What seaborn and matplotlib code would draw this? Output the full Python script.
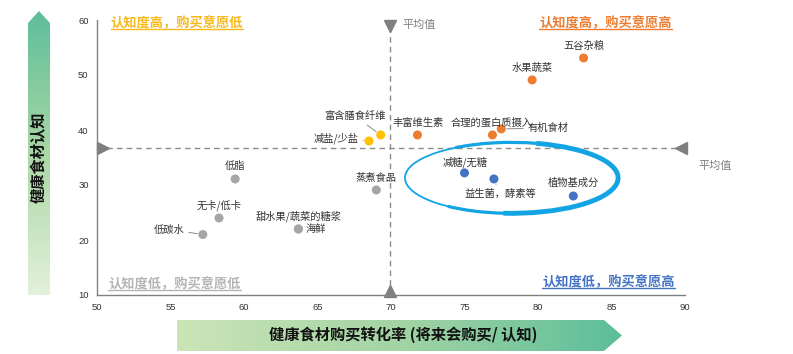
import numpy as np
import pandas as pd
import seaborn as sns
import matplotlib.pyplot as plt
from matplotlib.patches import Polygon, Arc
from matplotlib.lines import Line2D
from matplotlib.colors import LinearSegmentedColormap

# datos
nombres = ['五谷杂粮', '水果蔬菜', '丰富维生素', '合理的蛋白质摄入', '有机食材',
           '富含膳食纤维', '减盐/少盐',
           '低脂', '蒸煮食品', '无卡/低卡', '低碳水', '甜水果/蔬菜的糖浆', '海鲜',
           '减糖/无糖', '益生菌，酵素等', '植物基成分']
conversion = [83.1, 79.6, 71.8, 76.9, 77.5,
              69.3, 68.5,
              59.4, 69.0, 58.3, 57.2, 63.7, 63.7,
              75.0, 77.0, 82.4]
awareness = [53.1, 49.1, 39.1, 39.1, 40.2,
             39.1, 38.0,
             31.1, 29.1, 24.0, 21.0, 22.0, 22.0,
             32.2, 31.1, 28.0]
grupo = ['hh', 'hh', 'hh', 'hh', 'hh',
         'hl', 'hl',
         'll', 'll', 'll', 'll', 'll', 'll',
         'lh', 'lh', 'lh']
promedio_x = 69.9
promedio_y = 36.7

cuadrantes = {
    'hl': '认知度高，购买意愿低',
    'hh': '认知度高，购买意愿高',
    'll': '认知度低，购买意愿低',
    'lh': '认知度低，购买意愿高',
}
colores = {'hh': '#ED7D31', 'hl': '#FFC000', 'll': '#A5A5A5', 'lh': '#4472C4'}
colores_texto = {'hh': '#ED7D31', 'hl': '#F8B91C', 'll': '#B4B4B4', 'lh': '#4472C4'}

# desplazamiento de etiquetas (pixeles) y si llevan linea guia
etiquetas = {
    '五谷杂粮': (0, 12, False), '水果蔬菜': (0, 12, False),
    '丰富维生素': (1, 12, False), '合理的蛋白质摄入': (-1, 12, False),
    '有机食材': (47, 1, True), '富含膳食纤维': (-26, 19, True),
    '减盐/少盐': (-33, 3, True), '低脂': (0, 13, False),
    '蒸煮食品': (0, 12, False), '无卡/低卡': (0, 13, False),
    '低碳水': (-34, 5, True), '甜水果/蔬菜的糖浆': (0, 13, False),
    '海鲜': (17, 0, False), '减糖/无糖': (1, 11, False),
    '益生菌，酵素等': (6, -15, True), '植物基成分': (0, 13, False),
}

df = pd.DataFrame({'nombre': nombres, 'conv': conversion,
                   'aware': awareness, 'grupo': grupo})

sns.set_style('white')
plt.rcParams['font.family'] = ['Noto Sans CJK SC', 'DejaVu Sans']

fig = plt.figure(figsize=(7.93, 3.54), dpi=100)

# capa de fondo en pixeles para las flechas degradadas
bg = fig.add_axes([0, 0, 1, 1], zorder=0)
bg.set_xlim(0, 793)
bg.set_ylim(354, 0)
bg.axis('off')

cmap_v = LinearSegmentedColormap.from_list('v', ['#5DBE9A', '#A9D7A5', '#E4F1DB'])
im = bg.imshow(np.linspace(0, 1, 256).reshape(-1, 1), extent=(28, 50, 295, 11),
               cmap=cmap_v, aspect='auto')
poly = Polygon([(28, 295), (28, 23), (39, 11), (50, 23), (50, 295)],
               closed=True, fc='none', ec='none')
bg.add_patch(poly)
im.set_clip_path(poly)

cmap_h = LinearSegmentedColormap.from_list('h', ['#CCE5B7', '#A3D4A4', '#5DBE9A'])
im2 = bg.imshow(np.linspace(0, 1, 256).reshape(1, -1), extent=(177, 622, 351, 320),
                cmap=cmap_h, aspect='auto')
poly2 = Polygon([(177, 320), (604, 320), (622, 335.5), (604, 351), (177, 351)],
                closed=True, fc='none', ec='none')
bg.add_patch(poly2)
im2.set_clip_path(poly2)

bg.text(39, 157, '健康食材认知', rotation=90, ha='center', va='center',
        fontsize=11, fontweight='bold', color='#111111')
bg.text(403, 335, '健康食材购买转化率 (将来会购买/ 认知)', ha='center', va='center',
        fontsize=11, fontweight='bold', color='#111111')

# grafico principal
ax = fig.add_axes([97 / 793, 1 - 295 / 354, 588 / 793, 275 / 354], zorder=1)
ax.patch.set_alpha(0)

ax.axvline(promedio_x, color='#8C8C8C', ls=(0, (4, 3)), lw=1, zorder=1)
ax.axhline(promedio_y, color='#8C8C8C', ls=(0, (4, 3)), lw=1, zorder=1)
tri = dict(color='#7F7F7F', markersize=8, clip_on=False, zorder=2, ls='none')
ax.plot(promedio_x, 58.9, marker='v', **tri)
ax.plot(promedio_x, 10.8, marker='^', **tri)
ax.plot(50.4, promedio_y, marker='>', **tri)
ax.plot(89.7, promedio_y, marker='<', **tri)
ax.text(70.8, 59.1, '平均值', fontsize=8, color='#7F7F7F', ha='left', va='center')
ax.text(90.9, 33.4, '平均值', fontsize=8, color='#7F7F7F', ha='left', va='center',
        clip_on=False)

sns.scatterplot(data=df, x='conv', y='aware', hue='grupo', palette=colores,
                s=42, edgecolor='none', legend=False, ax=ax, zorder=3)

for _, fila in df.iterrows():
    dx, dy, guia = etiquetas[fila['nombre']]
    props = None
    if guia:
        props = dict(arrowstyle='-', color='#8C8C8C', lw=0.7, shrinkA=1, shrinkB=4)
    ax.annotate(fila['nombre'], (fila['conv'], fila['aware']), xytext=(dx, dy),
                textcoords='offset pixels', ha='center', va='center',
                fontsize=7.4, color='#333333', arrowprops=props, zorder=4)

# elipse de trazo tipo pincel
centro = (78.2, 31.3)
ax.add_patch(Arc(centro, 14.5, 12.9, theta1=0, theta2=360, color='#12A4E3', lw=1.3))
ax.add_patch(Arc(centro, 14.5, 12.9, theta1=-95, theta2=75, color='#12A4E3', lw=3.5))
ax.add_patch(Arc(centro, 14.5, 12.9, theta1=75, theta2=125, color='#12A4E3', lw=2.3))
ax.add_patch(Arc(centro, 14.5, 12.9, theta1=230, theta2=265, color='#12A4E3', lw=2.3))

# textos de cuadrante
pos_cuad = {'hl': (50.95, 59.45), 'hh': (80.1, 59.45),
            'll': (50.75, 12.0), 'lh': (80.3, 12.4)}
textos_cuad = []
for g, (px, py) in pos_cuad.items():
    t = ax.text(px, py, cuadrantes[g], ha='left', va='center', fontsize=9.5,
                fontweight='bold', color=colores_texto[g], zorder=4)
    textos_cuad.append(t)

ax.set_xlim(50, 90)
ax.set_ylim(10, 60)
ax.set_xticks(range(50, 91, 5))
ax.set_yticks(range(10, 61, 10))
ax.set_xlabel('')
ax.set_ylabel('')
ax.spines[['top', 'right']].set_visible(False)
for s in ['left', 'bottom']:
    ax.spines[s].set_color('#808080')
    ax.spines[s].set_linewidth(1)
ax.tick_params(direction='out', length=4, width=0.8, color='#808080',
               labelsize=6.8, labelcolor='#333333', pad=2)
for lbl in ax.get_xticklabels() + ax.get_yticklabels():
    lbl.set_fontfamily('Liberation Sans')

# subrayado de los textos de cuadrante
fig.canvas.draw()
r = fig.canvas.get_renderer()
for t in textos_cuad:
    bb = t.get_window_extent(r).transformed(fig.transFigure.inverted())
    fig.add_artist(Line2D([bb.x0, bb.x1], [bb.y0 + 0.003, bb.y0 + 0.003],
                          transform=fig.transFigure, color=t.get_color(), lw=1))

fig.savefig('out.png', dpi=100)
